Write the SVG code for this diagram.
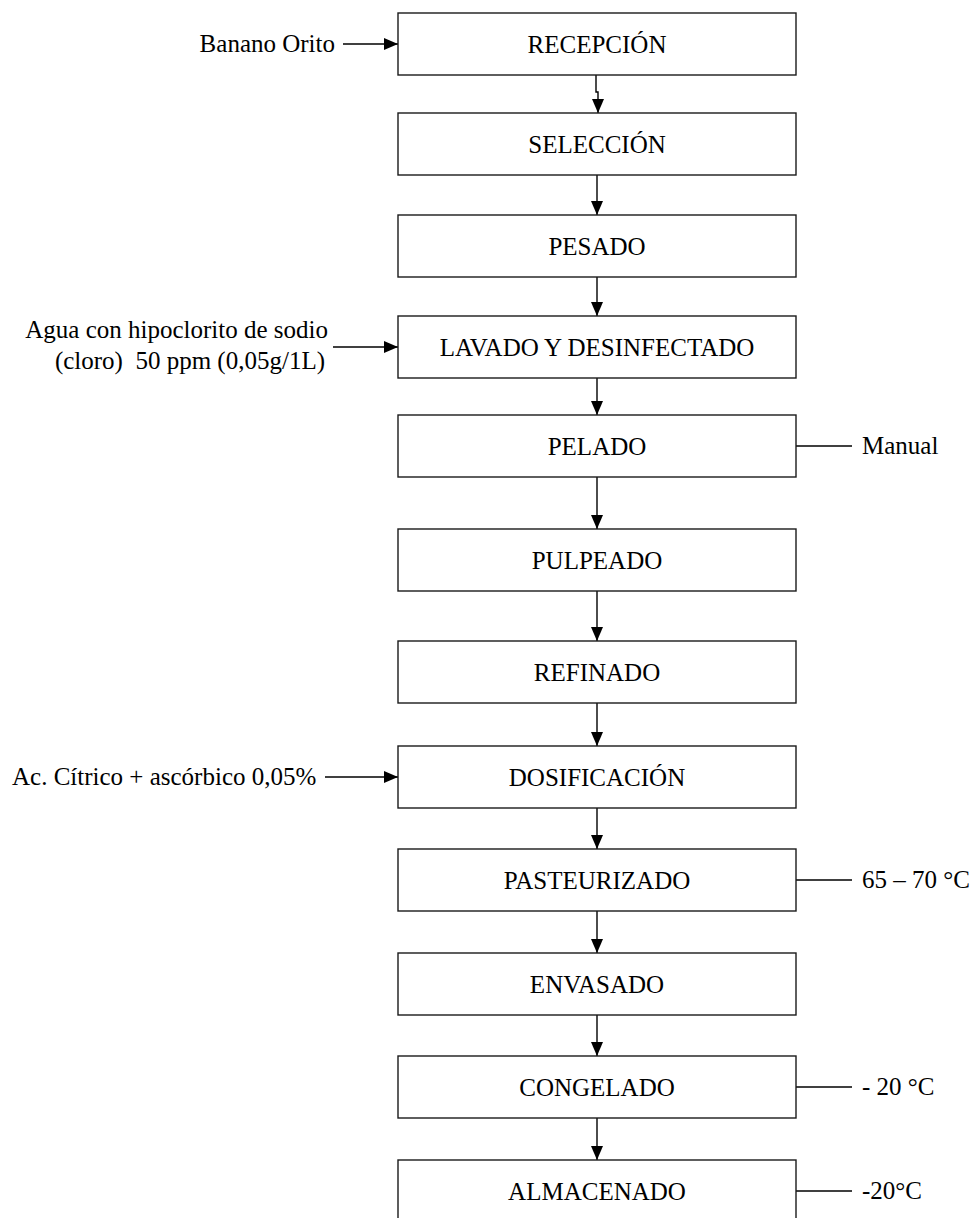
<svg xmlns="http://www.w3.org/2000/svg" width="974" height="1218" viewBox="0 0 974 1218">
<defs>
<marker id="ah" markerWidth="14" markerHeight="12" refX="14" refY="6" orient="auto" markerUnits="userSpaceOnUse">
<path d="M0,0 L14,6 L0,12 Z" fill="#000"/>
</marker>
<style>
.box{fill:#fff;stroke:#1a1a1a;stroke-width:1.4}
text{font-family:'Liberation Serif','Times New Roman',Times,'DejaVu Serif',serif;font-size:25px;fill:#000}
.c{text-anchor:middle}
.e{text-anchor:end}
.ln{stroke:#000;stroke-width:1.4;fill:none}
.ar{stroke:#000;stroke-width:1.4;fill:none;marker-end:url(#ah)}
</style>
</defs>
<rect width="974" height="1218" fill="#fff"/>
<g id="connectors">
<path class="ar" d="M596,75 V92 H598 V113"/>
<line class="ar" x1="597" y1="175" x2="597" y2="215"/>
<line class="ar" x1="597" y1="277" x2="597" y2="316"/>
<line class="ar" x1="597" y1="378" x2="597" y2="415"/>
<line class="ar" x1="597" y1="477" x2="597" y2="529"/>
<line class="ar" x1="597" y1="591" x2="597" y2="641"/>
<line class="ar" x1="597" y1="703" x2="597" y2="746"/>
<line class="ar" x1="597" y1="808" x2="597" y2="849"/>
<line class="ar" x1="597" y1="911" x2="597" y2="953"/>
<line class="ar" x1="597" y1="1015" x2="597" y2="1056"/>
<line class="ar" x1="597" y1="1118" x2="597" y2="1160"/>
<line class="ar" x1="343" y1="44" x2="398" y2="44"/>
<line class="ar" x1="333" y1="347" x2="398" y2="347"/>
<line class="ar" x1="325" y1="777" x2="398" y2="777"/>
<line class="ln" x1="796" y1="446" x2="852" y2="446"/>
<line class="ln" x1="796" y1="880" x2="852" y2="880"/>
<line class="ln" x1="796" y1="1087" x2="852" y2="1087"/>
<line class="ln" x1="796" y1="1191" x2="852" y2="1191"/>
</g>
<g id="recepcion"><rect class="box" x="398" y="13" width="398" height="62"/><text class="c" x="597" y="53" font-family="Liberation Serif, serif">RECEPCIÓN</text></g>
<g id="seleccion"><rect class="box" x="398" y="113" width="398" height="62"/><text class="c" x="597" y="153">SELECCIÓN</text></g>
<g id="pesado"><rect class="box" x="398" y="215" width="398" height="62"/><text class="c" x="597" y="255">PESADO</text></g>
<g id="lavado"><rect class="box" x="398" y="316" width="398" height="62"/><text class="c" x="597" y="356">LAVADO Y DESINFECTADO</text></g>
<g id="pelado"><rect class="box" x="398" y="415" width="398" height="62"/><text class="c" x="597" y="455">PELADO</text></g>
<g id="pulpeado"><rect class="box" x="398" y="529" width="398" height="62"/><text class="c" x="597" y="569">PULPEADO</text></g>
<g id="refinado"><rect class="box" x="398" y="641" width="398" height="62"/><text class="c" x="597" y="681">REFINADO</text></g>
<g id="dosificacion"><rect class="box" x="398" y="746" width="398" height="62"/><text class="c" x="597" y="786">DOSIFICACIÓN</text></g>
<g id="pasteurizado"><rect class="box" x="398" y="849" width="398" height="62"/><text class="c" x="597" y="889">PASTEURIZADO</text></g>
<g id="envasado"><rect class="box" x="398" y="953" width="398" height="62"/><text class="c" x="597" y="993">ENVASADO</text></g>
<g id="congelado"><rect class="box" x="398" y="1056" width="398" height="62"/><text class="c" x="597" y="1096">CONGELADO</text></g>
<g id="almacenado"><rect class="box" x="398" y="1160" width="398" height="70"/><text class="c" x="597" y="1200">ALMACENADO</text></g>
<g id="in-banano"><text class="e" x="335" y="52">Banano Orito</text></g>
<g id="in-agua"><text class="e" x="328" y="338">Agua con hipoclorito de sodio</text><text class="e" x="325" y="369" xml:space="preserve">(cloro)  50 ppm (0,05g/1L)</text></g>
<g id="in-acido"><text x="12" y="785">Ac. Cítrico + ascórbico 0,05%</text></g>
<g id="note-manual"><text x="862" y="454">Manual</text></g>
<g id="note-past"><text x="862" y="888">65 – 70 °C</text></g>
<g id="note-cong"><text x="862" y="1095">- 20 °C</text></g>
<g id="note-alm"><text x="862" y="1199">-20°C</text></g>
</svg>
